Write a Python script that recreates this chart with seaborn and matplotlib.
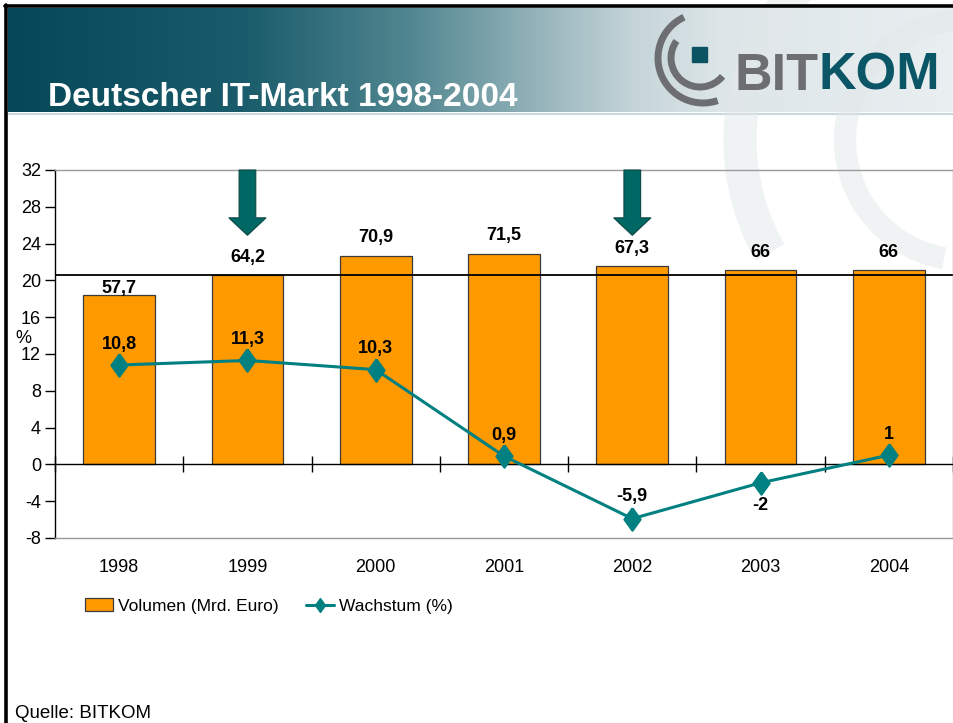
import numpy as np
import pandas as pd
import matplotlib
matplotlib.use('Agg')
import matplotlib.pyplot as plt
import seaborn as sns
from matplotlib.patches import Arc, Rectangle, Patch, FancyArrow
from matplotlib.lines import Line2D
from matplotlib.colors import LinearSegmentedColormap

# Daten
jahre = ['1998', '1999', '2000', '2001', '2002', '2003', '2004']
volumen = [57.7, 64.2, 70.9, 71.5, 67.3, 66, 66]        # Mrd. Euro
wachstum = [10.8, 11.3, 10.3, 0.9, -5.9, -2, 1]         # %
markiert = ['1999', '2002']                             # Jahre mit Pfeil
y_ticks = [-8, -4, 0, 4, 8, 12, 16, 20, 24, 28, 32]

sns.set_theme(style='white')
plt.rcParams['font.family'] = ['Liberation Sans', 'DejaVu Sans']
plt.rcParams['axes.unicode_minus'] = False
plt.rcParams['text.color'] = 'black'
plt.rcParams['xtick.color'] = 'black'
plt.rcParams['ytick.color'] = 'black'
plt.rcParams['axes.labelcolor'] = 'black'

ORANGE = '#ff9900'
TEAL = '#008080'
DIAMOND = [(0, 1), (0.72, 0), (0, -1), (-0.72, 0), (0, 1)]


def de(v):
    # deutsches Zahlenformat
    return ('%g' % v).replace('.', ',')


fig = plt.figure(figsize=(9.54, 7.23), dpi=100)

# ---- Hintergrund (Pixelkoordinaten) ----
bg = fig.add_axes([0, 0, 1, 1], zorder=0)
bg.set_xlim(0, 954)
bg.set_ylim(723, 0)
bg.axis('off')

banner = LinearSegmentedColormap.from_list('banner', [
    (0.0, '#064858'), (0.25, '#1a5c6b'), (0.42, '#4f858f'),
    (0.55, '#90b0b7'), (0.66, '#c4d4d8'), (0.75, '#dce5e8'), (1.0, '#eaeff1')])
bg.imshow(np.linspace(0, 1, 256).reshape(1, -1), cmap=banner,
          extent=[8, 954, 112, 8], aspect='auto', zorder=1)
bg.plot([8, 954], [113.5, 113.5], color='#c8d7db', lw=1.5, zorder=2)

# Wasserzeichen-Boegen
for r, w, t1 in [(225, 24, 150), (120, 16, 100)]:
    bg.add_patch(Arc((965, 140), 2 * r, 2 * r, theta1=t1, theta2=300,
                     lw=w, color='#e3e8ea', alpha=0.5, zorder=2))

# Rahmen
bg.plot([5, 954], [6, 6], color='black', lw=2.6, zorder=5)
bg.plot([6.5, 6.5], [5, 723], color='black', lw=2.6, zorder=5)

# Logo
bg.add_patch(Arc((703, 58), 90, 90, theta1=71, theta2=245, lw=5, color='#6d6e71', zorder=4))
bg.add_patch(Arc((700, 58), 58, 58, theta1=39, theta2=216, lw=5, color='#6d6e71', zorder=4))
bg.add_patch(Rectangle((692, 47), 15, 15, color='#0b5363', zorder=4))
t_bit = bg.text(735, 90, 'BIT', color='#6d6e71', fontsize=37.5, fontweight='bold',
                va='baseline', ha='left', zorder=4)
bg.annotate('KOM', xy=(1, 0), xycoords=t_bit, va='bottom', ha='left',
            color='#0a5566', fontsize=37.5, fontweight='bold', zorder=4)

bg.text(48, 106, 'Deutscher IT-Markt 1998-2004', color='white', fontsize=24,
        fontweight='bold', va='baseline', zorder=4)
bg.text(15, 718, 'Quelle: BITKOM', fontsize=13.5, va='baseline', zorder=4)

# ---- Diagramm ----
ax = fig.add_axes([55 / 954, 1 - 538 / 723, (953 - 55) / 954, (538 - 170) / 723], zorder=2)
ax2 = ax.twinx()
ax2.set_zorder(1.5)
ax.patch.set_visible(False)
ax2.patch.set_visible(False)

# Balken: Volumen (versteckte Sekundaerachse)
sns.barplot(x=jahre, y=volumen, ax=ax2, color=ORANGE, width=0.56, saturation=1,
            edgecolor='#3a3a3a', linewidth=0.9)
ax2.set_ylim(-25, 100)
ax2.set_yticks([])
ax2.set_ylabel('')
for s in ax2.spines.values():
    s.set_visible(False)
ax2.axhline(volumen[jahre.index('1999')], color='black', lw=1.3, zorder=3)

bar_off = [4, 13, 13, 13, 13, 13, 13]
for i, v in enumerate(volumen):
    ax2.annotate(de(v), (i, v), xytext=(0, bar_off[i]), textcoords='offset points',
                 ha='center', va='center', fontsize=13, fontweight='bold')

# Linie: Wachstum
sns.pointplot(x=jahre, y=wachstum, ax=ax, color=TEAL, markers='D', linestyles='-',
              errorbar=None, markersize=15, linewidth=2.2)
for ln in ax.lines:
    ln.set_marker(DIAMOND)
    ln.set_markersize(16)
    ln.set_zorder(4)

line_off = [15, 15, 15, 15, 16, -16, 15]
for i, v in enumerate(wachstum):
    ax.annotate(de(v), (i, v), xytext=(0, line_off[i]), textcoords='offset points',
                ha='center', va='center', fontsize=13, fontweight='bold', zorder=5)

# Nulllinie mit Kategoriegrenzen
ax.axhline(0, color='black', lw=1, zorder=3)
grenzen = np.arange(len(jahre) + 1) - 0.5
ax.plot(grenzen, np.zeros(len(grenzen)), ls='none', marker='|', ms=12, mew=1,
        color='black', clip_on=False, zorder=3)

# Pfeile
for j in markiert:
    i = jahre.index(j)
    ax.add_patch(FancyArrow(i, 32, 0, -7.1, width=0.13, head_width=0.29, head_length=1.9,
                            length_includes_head=True, fc='#006864', ec='#0d4644',
                            lw=0.8, zorder=4, clip_on=False))

ax.set_xlim(-0.5, len(jahre) - 0.5)
ax.set_ylim(-8, 32)
ax.set_yticks(y_ticks)
ax.set_yticklabels([str(t) for t in y_ticks])
ax.tick_params(axis='y', left=True, direction='out', length=7, width=1, labelsize=13, pad=3)
ax.tick_params(axis='x', length=0, labelsize=13, pad=15)
ax.set_xlabel('')
ax.set_ylabel('')
ax.text(-0.035, 0.5425, '%', transform=ax.transAxes, ha='center', va='center', fontsize=13)
ax.spines['left'].set_color('black')
ax.spines['left'].set_linewidth(1)
for k in ['top', 'right', 'bottom']:
    ax.spines[k].set_color('#9a9a9a')
    ax.spines[k].set_linewidth(1)
ax.grid(False)

# Legende
handles = [Patch(fc=ORANGE, ec='#3a3a3a', lw=0.9, label='Volumen (Mrd. Euro)'),
           Line2D([], [], color=TEAL, lw=2.2, marker=DIAMOND, ms=10, label='Wachstum (%)')]
fig.legend(handles=handles, loc='center left', bbox_to_anchor=(85 / 954, 1 - 606 / 723),
           ncol=2, frameon=False, fontsize=12.5, borderpad=0, borderaxespad=0,
           handlelength=1.6, handletextpad=0.3, columnspacing=1.6)

fig.savefig('out.png', dpi=100)
